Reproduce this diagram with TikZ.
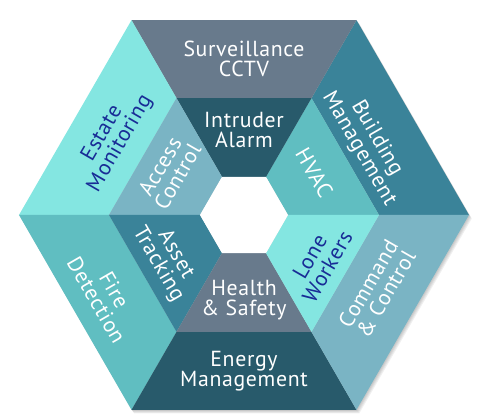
\documentclass[tikz,border=0pt]{standalone}
\usepackage{fontspec}
\setmainfont[LetterSpace=3]{PT Sans}
\usepackage{xcolor}
\usetikzlibrary{positioning}

\definecolor{slate}{RGB}{104,122,140}
\definecolor{deepteal}{RGB}{40,90,107}
\definecolor{aqua}{RGB}{132,230,225}
\definecolor{steel}{RGB}{122,180,196}
\definecolor{seablue}{RGB}{58,131,153}
\definecolor{lagoon}{RGB}{96,190,193}
\definecolor{navytext}{RGB}{24,44,150}

\begin{document}
\begin{tikzpicture}[x=0.025cm,y=0.025cm,
	ringtext/.style={align=center,text=white,inner sep=0pt,font=\fontsize{15.5}{14.5}\selectfont},
	darktext/.style={ringtext,text=navytext}]
		\useasboundingbox (-244,-204) rectangle (236,215);
	%Shadow
		\foreach \s in {1,...,4}
		{
			\fill[black,opacity=0.06,shift={(0.7*\s,-0.9*\s)}] (0:225) -- (60:225) -- (120:225) -- (180:225) -- (240:225) -- (300:225) -- cycle;
		}
	%Outer ring
		\foreach \a/\col in {0/seablue,60/slate,120/aqua,180/lagoon,240/deepteal,300/steel}
		{
			\fill[\col] (\a:225) -- (\a+60:225) -- (\a+60:135) -- (\a:135) -- cycle;
		}
	%Inner ring
		\foreach \a/\col in {0/lagoon,60/deepteal,120/steel,180/seablue,240/slate,300/aqua}
		{
			\fill[\col] (\a:135) -- (\a+60:135) -- (\a+60:44) -- (\a:44) -- cycle;
		}
	%Center
		\fill[white] (0:44) -- (60:44) -- (120:44) -- (180:44) -- (240:44) -- (300:44) -- cycle;
	%Outer labels
		\node[ringtext] (surveillance) at (90:156) {Surveillance\\CCTV};
		\node[ringtext,rotate=-60] (building) at (30:143) {Building\\Management};
		\node[darktext,rotate=60] (estate) at (150:153) {Estate\\Monitoring};
		\node[ringtext,rotate=-60] (fire) at (210:160) {Fire\\Detection};
		\node[ringtext] (energy) at (270:156) {Energy\\Management};
		\node[ringtext,rotate=60] (command) at (331:152) {Command\\\& Control};
	%Inner labels
		\node[ringtext] (intruder) at (90:85) {Intruder\\Alarm};
		\node[ringtext,rotate=-60] (hvac) at (31:82) {HVAC};
		\node[ringtext,rotate=60] (access) at (150:87) {Access\\Control};
		\node[ringtext,rotate=-60] (asset) at (210:89) {Asset\\Tracking};
		\node[ringtext] (health) at (270:85) {Health\\\& Safety};
		\node[darktext,rotate=60] (lone) at (328:88) {Lone\\Workers};
\end{tikzpicture}
\end{document}
